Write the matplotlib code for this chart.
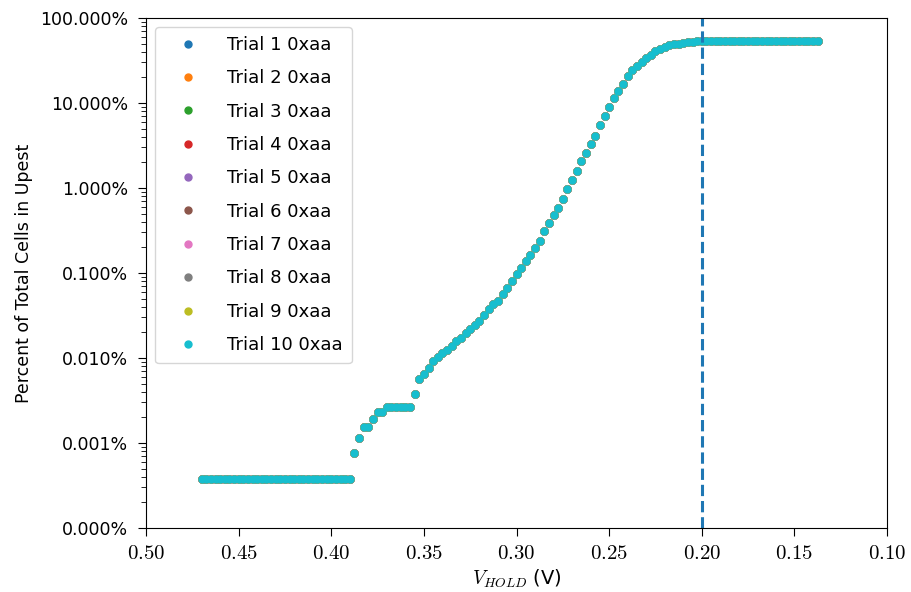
# Percent of cells in the "up" state vs. hold voltage, 10 trials of pattern 0xaa

import numpy as np
import matplotlib.pyplot as plt
import matplotlib.ticker as mticker

plt.rcParams['mathtext.fontset'] = 'cm'
plt.rcParams['font.family'] = ['DejaVu Sans']

# 1. Sweep settings (hold voltage stepped down from 0.470 V in 2.5 mV steps)
V_START = 0.470
V_STEP = 0.0025
TOTAL_CELLS = 262144  # 1 cell -> ~0.00038 %

# 2. Cells found in the up state at each sweep step
cells_up = (
    [1] * 33
    + [2, 3, 4, 4, 5, 6, 6]
    + [7] * 6
    + [10, 15, 17, 20, 24, 27, 30, 33, 36, 42,
       45, 51, 57, 64, 71, 84, 99, 113, 123, 148,
       175, 211, 255, 300, 363, 427, 516, 623, 818, 1015,
       1260, 1526, 1948, 2550, 3250, 4200, 5400, 6800, 8637, 10722,
       14641, 18429, 23514, 29622, 36281, 43909, 54526, 63963, 71303, 79430,
       88604, 96207, 105906, 113246, 119538, 126091, 129499, 131334, 134700, 136800,
       138000]
    + [139000] * 27
)

trial_names = ['Trial %d 0xaa' % n for n in range(1, 11)]
vline_v = 0.20

v_hold = np.round(V_START - V_STEP * np.arange(len(cells_up)), 4)
percent = np.array(cells_up) / TOTAL_CELLS * 100

# 3. Plotting
fig, ax = plt.subplots(figsize=(9.11, 5.92), dpi=100)
fig.subplots_adjust(left=0.1603, right=0.9737, top=0.9696, bottom=0.1081)

for i, name in enumerate(trial_names):
    ax.plot(v_hold, percent, 'o', markersize=5, color='C%d' % i, label=name)

ax.axvline(vline_v, color='C0', linestyle='--', linewidth=2.2)

ax.set_yscale('log')
ax.set_ylim(1e-4, 100)
ax.set_xlim(0.50, 0.10)
ax.set_xticks([0.50, 0.45, 0.40, 0.35, 0.30, 0.25, 0.20, 0.15, 0.10])
ax.xaxis.set_major_formatter(mticker.FuncFormatter(lambda x, p: '$%.2f$' % x))
ax.yaxis.set_major_formatter(mticker.FuncFormatter(lambda y, p: '%.3f%%' % y))
ax.yaxis.set_minor_formatter(mticker.NullFormatter())
ax.tick_params(axis='x', labelsize=15, length=6, pad=5)
ax.tick_params(axis='y', labelsize=12.5, length=6, pad=7)
ax.tick_params(axis='y', which='minor', length=3.5)

ax.set_xlabel('$V_{HOLD}$ (V)', fontsize=14, labelpad=3)
ax.set_ylabel('Percent of Total Cells in Upest', fontsize=12.5, labelpad=5)
ax.legend(loc='upper left', fontsize=13, labelspacing=0.85, borderpad=0.5,
          handlelength=2.6, handletextpad=0.9)

# 4. Save
fig.savefig('out.png', dpi=100)
